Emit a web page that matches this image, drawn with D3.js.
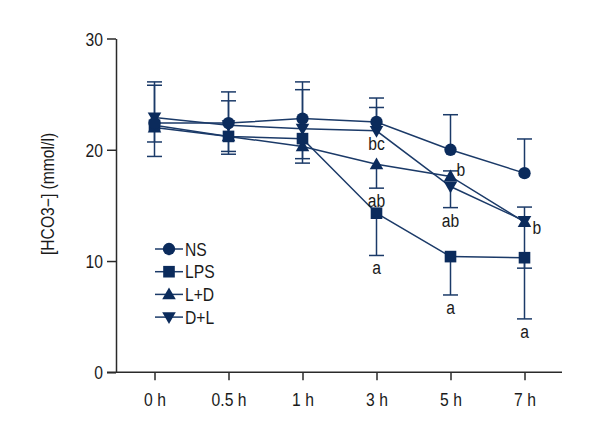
<!DOCTYPE html>
<html>
<head>
<meta charset="utf-8">
<script src="https://cdn.jsdelivr.net/npm/d3@7"></script>
<style>
  html, body { margin: 0; padding: 0; background: #fff; }
  svg { display: block; }
  text { font-family: "Liberation Sans", Arial, sans-serif; fill: #1a1a1a; }
</style>
</head>
<body>
<svg id="chart" width="600" height="440"></svg>
<script>
// ---------- data ----------
const categories = ["0 h", "0.5 h", "1 h", "3 h", "5 h", "7 h"];
const yTicks = [0, 10, 20, 30];
const seriesNames = ["NS", "LPS", "L+D", "D+L"];

const nsValues  = [22.4, 22.4, 22.8, 22.5, 20.0, 17.9];
const lpsValues = [22.2, 21.2, 21.0, 14.3, 10.4, 10.3];
const ldValues  = [22.0, 21.2, 20.3, 18.7, 17.6, 13.5];
const dlValues  = [22.9, 22.2, 21.9, 21.7, 16.7, 13.6];

// asymmetric error bars (upper / lower length); 0 = not shown
const nsErrUp    = [3.7, 2.8, 3.3, 2.15, 3.15, 3.07];
const nsErrDown  = [3.0, 2.8, 4.0, 0, 0, 0];
const lpsErrUp   = [0, 0, 0, 0, 0, 0];
const lpsErrDown = [0, 0, 0, 3.8, 3.45, 5.5];
const ldErrUp    = [0, 0, 0, 0, 0.5, 1.35];
const ldErrDown  = [0, 0, 0, 2.15, 0, 0];
const dlErrUp    = [2.9, 2.2, 3.5, 2.1, 0, 0];
const dlErrDown  = [2.2, 2.35, 2.7, 0, 1.9, 4.24];

// significance letters
const sigSeries     = ["D+L", "L+D", "LPS", "L+D", "D+L", "LPS", "L+D", "LPS"];
const sigCategories = ["3 h", "3 h", "3 h", "5 h", "5 h", "5 h", "7 h", "7 h"];
const sigTexts      = ["bc", "ab", "a", "b", "ab", "a", "b", "a"];
const sigPlacement  = ["below", "below", "below", "rightCap", "below", "below", "right", "below"];

// ---------- layout ----------
const color = "#0b2b5c";
const lineColor = "#1b3a68";
const axisColor = "#2a2a2a";
const FS = 18, SX = 0.87;   // condensed look: font size and horizontal squeeze

const svg = d3.select("#chart");

const x = d3.scalePoint().domain(categories).range([154.5, 524.5]);
const y = d3.scaleLinear().domain([0, 30]).range([372.3, 38.5]);

const axisX0 = 116, axisXEnd = 562;

function narrowText(sel, xPos, yPos, anchor) {
  sel.style("font-size", FS + "px")
     .attr("text-anchor", anchor)
     .attr("x", xPos / SX)
     .attr("y", yPos)
     .attr("dy", null)
     .attr("transform", `scale(${SX},1)`);
}

// y axis
const yAxis = d3.axisLeft(y).tickValues(yTicks).tickSize(9).tickSizeOuter(0);
const gy = svg.append("g").attr("transform", `translate(${axisX0},0)`).call(yAxis);
gy.select(".domain").attr("stroke", axisColor).attr("stroke-width", 1.5);
gy.selectAll(".tick line").attr("stroke", axisColor).attr("stroke-width", 1.5);
gy.selectAll(".tick text").call(narrowText, -13, 6.5, "end");

// x axis
const xAxis = d3.axisBottom(x).tickSize(8).tickSizeOuter(0);
const gx = svg.append("g").attr("transform", `translate(0,${y(0)})`).call(xAxis);
gx.select(".domain").remove();
gx.append("line").attr("x1", axisX0 - 9).attr("x2", axisXEnd).attr("y1", 0).attr("y2", 0)
  .attr("stroke", axisColor).attr("stroke-width", 1.5);
gx.selectAll(".tick line").attr("stroke", axisColor).attr("stroke-width", 1.5);
gx.selectAll(".tick text").call(narrowText, 0, 34, "middle");

// y label
svg.append("text")
  .attr("transform", `translate(54,194) rotate(-90) scale(${SX},1)`)
  .attr("text-anchor", "middle")
  .style("font-size", "18px")
  .text("[HCO3\u2212] (mmol/l)");

// ---------- series ----------
const series = [
  { name: "D+L", values: dlValues,  up: dlErrUp,  down: dlErrDown,  symbol: d3.symbolTriangle, size: 80, rot: 180 },
  { name: "L+D", values: ldValues,  up: ldErrUp,  down: ldErrDown,  symbol: d3.symbolTriangle, size: 80, rot: 0 },
  { name: "LPS", values: lpsValues, up: lpsErrUp, down: lpsErrDown, symbol: d3.symbolSquare,   size: 135, rot: 0 },
  { name: "NS",  values: nsValues,  up: nsErrUp,  down: nsErrDown,  symbol: d3.symbolCircle,   size: 120, rot: 0 }
];
const byName = {};
series.forEach(s => byName[s.name] = s);

const capHalf = 7.5;
const gErr = svg.append("g");
series.forEach(s => {
  categories.forEach((c, i) => {
    const cx = x(c), v = s.values[i];
    [[s.up[i], 1], [s.down[i], -1]].forEach(([e, dir]) => {
      if (e > 0) {
        const yEnd = y(v + dir * e);
        gErr.append("line").attr("x1", cx).attr("x2", cx).attr("y1", y(v)).attr("y2", yEnd)
          .attr("stroke", lineColor).attr("stroke-width", 1.5);
        gErr.append("line").attr("x1", cx - capHalf).attr("x2", cx + capHalf).attr("y1", yEnd).attr("y2", yEnd)
          .attr("stroke", lineColor).attr("stroke-width", 1.5);
      }
    });
  });
});

const line = d3.line().x((d, i) => x(categories[i])).y(d => y(d));
const gLines = svg.append("g");
series.forEach(s => {
  gLines.append("path").attr("d", line(s.values))
    .attr("fill", "none").attr("stroke", lineColor).attr("stroke-width", 1.5);
});

const gMarks = svg.append("g");
series.forEach(s => {
  const sym = d3.symbol().type(s.symbol).size(s.size);
  s.values.forEach((v, i) => {
    const off = s.symbol === d3.symbolTriangle ? (s.rot ? -1 : 1) : 0;
    gMarks.append("path").attr("d", sym())
      .attr("transform", `translate(${x(categories[i])},${y(v) + off}) rotate(${s.rot})`)
      .attr("fill", color);
  });
});

// significance letters
const gSig = svg.append("g");
sigTexts.forEach((t, i) => {
  const s = byName[sigSeries[i]];
  const k = categories.indexOf(sigCategories[i]);
  const v = s.values[k];
  const cx = x(sigCategories[i]);
  let tx, ty, anchor;
  if (sigPlacement[i] === "below") {
    tx = cx; ty = y(v - s.down[k]) + 19; anchor = "middle";
  } else if (sigPlacement[i] === "rightCap") {
    tx = cx + 6; ty = y(v + s.up[k]) + 5; anchor = "start";
  } else {
    tx = cx + 8; ty = y(v) + 12; anchor = "start";
  }
  gSig.append("text").call(narrowText, tx, ty, anchor).text(t);
});

// legend
const legendOrder = [
  { name: "NS",  symbol: d3.symbolCircle,   size: 120, rot: 0 },
  { name: "LPS", symbol: d3.symbolSquare,   size: 135, rot: 0 },
  { name: "L+D", symbol: d3.symbolTriangle, size: 80,  rot: 0 },
  { name: "D+L", symbol: d3.symbolTriangle, size: 80,  rot: 180 }
];
const gLeg = svg.append("g").attr("transform", "translate(155,249)");
legendOrder.forEach((l, i) => {
  const g = gLeg.append("g").attr("transform", `translate(0,${i * 22.7})`);
  g.append("line").attr("x1", 0).attr("x2", 28).attr("y1", 0).attr("y2", 0)
    .attr("stroke", lineColor).attr("stroke-width", 1.5);
  g.append("path").attr("d", d3.symbol().type(l.symbol).size(l.size)())
    .attr("transform", `translate(14,${l.symbol === d3.symbolTriangle ? (l.rot ? -1 : 1) : 0}) rotate(${l.rot})`)
    .attr("fill", color);
  g.append("text").call(narrowText, 30, 6.5, "start").text(l.name);
});
</script>
</body>
</html>
